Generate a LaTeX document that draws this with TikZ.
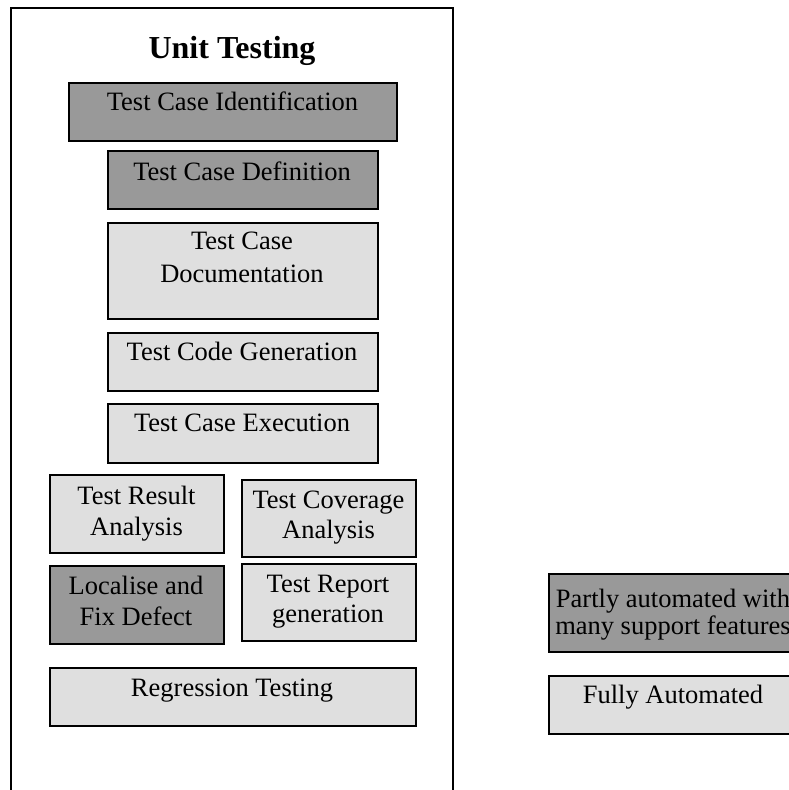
\documentclass[tikz,border=0pt]{standalone}
\usepackage{fontspec}
\setmainfont{Liberation Serif}
\definecolor{darkfill}{RGB}{153,153,153}
\definecolor{lightfill}{RGB}{223,223,223}
\begin{document}
\begin{tikzpicture}[x=1pt,y=-1pt,
  box/.style={draw=black, line width=1.6pt, inner sep=0pt, anchor=north west},
  darkbox/.style={box, fill=darkfill},
  lightbox/.style={box, fill=lightfill},
  lbl/.style={anchor=base, inner sep=0pt, align=center, font=\fontsize{26.5}{31}\selectfont}]
\useasboundingbox (0,0) rectangle (789,790);
\clip (0,0) rectangle (789,790);

% frame of the unit testing panel (open at the bottom)
\coordinate (fbl) at (11,800);
\coordinate (ftl) at (11,8);
\coordinate (ftr) at (453,8);
\coordinate (fbr) at (453,800);
\draw[line width=1.6pt] (fbl) -- (ftl) -- (ftr) -- (fbr);

\node[anchor=base, inner sep=0pt, font=\bfseries\fontsize{32}{38}\selectfont] (title) at (232,58) {Unit Testing};

% activity boxes (multi-line labels are placed by the baseline of their last line)
\node[darkbox, minimum width=328pt, minimum height=58pt] (ident) at (68,82) {};
\node[lbl] (identT) at (232.5,110) {Test Case Identification};

\node[darkbox, minimum width=270pt, minimum height=58pt] (def) at (107,150) {};
\node[lbl] (defT) at (242,180) {Test Case Definition};

\node[lightbox, minimum width=270pt, minimum height=96pt] (doc) at (107,222) {};
\node[lbl] (docT) at (242,282) {Test Case\\[2pt]Documentation};

\node[lightbox, minimum width=270pt, minimum height=58pt] (code) at (107,332) {};
\node[lbl] (codeT) at (242,360) {Test Code Generation};

\node[lightbox, minimum width=270pt, minimum height=59pt] (exec) at (107,403) {};
\node[lbl] (execT) at (242,431.5) {Test Case Execution};

\node[lightbox, minimum width=174pt, minimum height=78pt] (result) at (49,474) {};
\node[lbl] (resultT) at (136.5,535) {Test Result\\Analysis};

\node[lightbox, minimum width=174pt, minimum height=77pt] (cover) at (241,479) {};
\node[lbl, font=\fontsize{26.5}{30}\selectfont] (coverT) at (328.5,538) {Test Coverage\\Analysis};

\node[darkbox, minimum width=174pt, minimum height=78pt] (fix) at (49,565) {};
\node[lbl] (fixT) at (136,625) {Localise and\\Fix Defect};

\node[lightbox, minimum width=174pt, minimum height=77pt] (report) at (241,563) {};
\node[lbl, font=\fontsize{26.5}{30}\selectfont] (reportT) at (328,622) {Test Report\\generation};

\node[lightbox, minimum width=366pt, minimum height=58pt] (regr) at (49,667) {};
\node[lbl] (regrT) at (232,696) {Regression Testing};

% legend
\node[darkbox, minimum width=250pt, minimum height=78pt] (partly) at (548,573) {};
\node[lbl, font=\fontsize{26.5}{27}\selectfont] (partlyT) at (673,634) {Partly automated with\\many support features};

\node[lightbox, minimum width=250pt, minimum height=58pt] (fully) at (548,675) {};
\node[lbl] (fullyT) at (673,703) {Fully Automated};
\end{tikzpicture}
\end{document}
